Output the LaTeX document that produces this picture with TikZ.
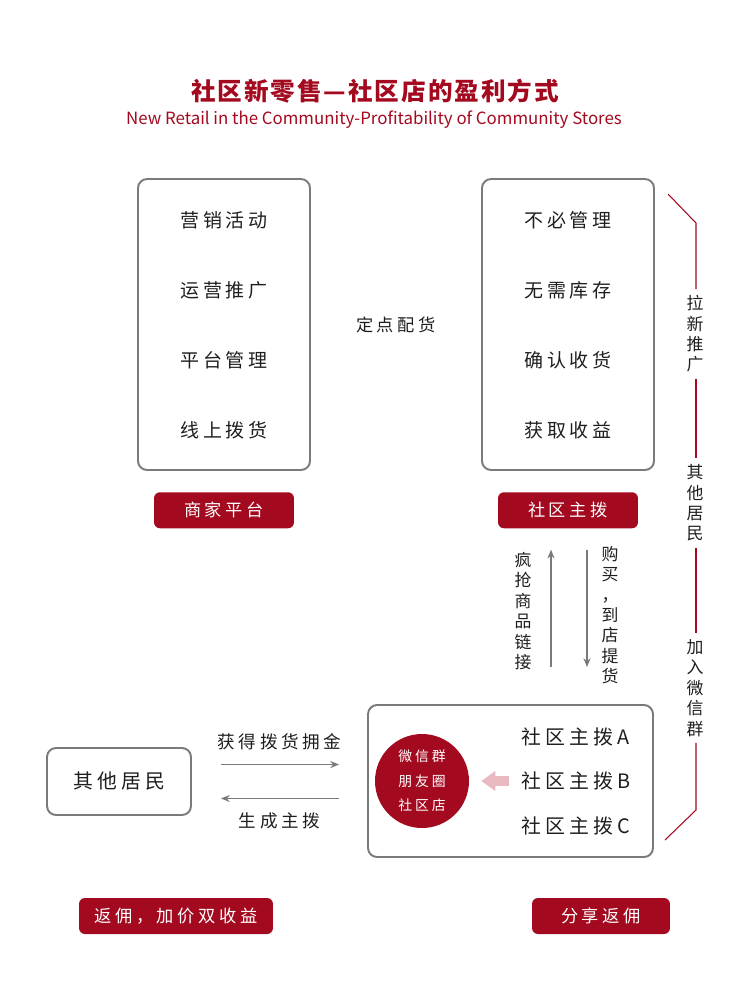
\documentclass[tikz,border=0pt]{standalone}
\usepackage{fontspec}
\setmainfont{Noto Sans CJK SC}
\newfontfamily\cjk[LetterSpace=21]{Noto Sans CJK SC}
\newfontfamily\cjktitle[LetterSpace=8]{Noto Sans CJK SC}
\usetikzlibrary{positioning,arrows.meta}
\definecolor{brandred}{HTML}{A3091F}
\definecolor{linegray}{HTML}{7A7A7A}
\definecolor{arrowpink}{HTML}{E8B9C1}
\definecolor{ink}{HTML}{1E1E1E}

\begin{document}
\begin{tikzpicture}[x=0.02cm,y=-0.02cm,
    panel/.style={draw=linegray,line width=1.1pt,rounded corners=0.18cm},
    item/.style={text=ink,font=\cjk\fontsize{10.8}{13}\selectfont},
    tag/.style={fill=brandred,text=white,rounded corners=0.12cm,minimum height=0.72cm,
      font=\cjk\fontsize{9.8}{12}\selectfont},
    vtext/.style={align=center,text=ink,inner sep=0pt,font=\fontsize{9.6}{11.6}\selectfont},
    flow/.style={draw=linegray,line width=0.85pt,-{Stealth[length=5pt,width=4pt]}},
    brace/.style={draw=brandred,line width=0.6pt}]
  \useasboundingbox (0,0) rectangle (750,994);

  \node[text=brandred,font=\cjktitle\bfseries\fontsize{14}{16}\selectfont] (title) at (375,91) {社区新零售—社区店的盈利方式};
  \node[text=brandred,font=\fontsize{9.6}{11}\selectfont] (subtitle) at (374,120) {New Retail in the Community-Profitability of Community Stores};

  \node[panel,minimum width=3.44cm,minimum height=5.82cm] (shop) at (224,324.5) {};
  \node[item] (s1) at (224,220) {营销活动};
  \node[item] (s2) at (224,290) {运营推广};
  \node[item] (s3) at (224,360) {平台管理};
  \node[item] (s4) at (224,430) {线上拨货};
  \node[tag,minimum width=2.8cm,below=0.42cm of shop] (shoptag) {商家平台};

  \node[item,font=\cjk\fontsize{9.8}{12}\selectfont] (deliver) at (396,325) {定点配货};

  \node[panel,minimum width=3.44cm,minimum height=5.82cm] (host) at (568,324.5) {};
  \node[item] (h1) at (568,220) {不必管理};
  \node[item] (h2) at (568,290) {无需库存};
  \node[item] (h3) at (568,360) {确认收货};
  \node[item] (h4) at (568,430) {获取收益};
  \node[tag,minimum width=2.8cm,below=0.42cm of host] (hosttag) {社区主拨};

  \node[panel,minimum width=5.7cm,minimum height=3.04cm] (group) at (510.5,781) {};
  \node[circle,fill=brandred,minimum size=1.88cm,text=white,align=center,
    font=\cjk\fontsize{7.9}{13.9}\selectfont] (chat) at (422,781) {微信群\\朋友圈\\社区店};
  \node[item,anchor=west,inner sep=0pt,font=\cjk\fontsize{11.3}{13}\selectfont] (hA) at (521,737) {社区主拨A};
  \node[item,anchor=west,inner sep=0pt,font=\cjk\fontsize{11.3}{13}\selectfont] (hB) at (521,781) {社区主拨B};
  \node[item,anchor=west,inner sep=0pt,font=\cjk\fontsize{11.3}{13}\selectfont] (hC) at (521,826) {社区主拨C};
  \draw[arrowpink,line width=0.2cm,-{Triangle[length=0.28cm,width=0.38cm]},
    shorten <=0.24cm,shorten >=0.24cm] (hB.west) -- (chat.east);

  \node[panel,minimum width=2.88cm,minimum height=1.34cm,item,font=\cjk\fontsize{11.3}{13}\selectfont] (other) at (119,781.5) {其他居民};

  \coordinate (o1) at ([yshift=0.34cm]other.east);
  \coordinate (o2) at ([yshift=-0.34cm]other.east);
  \draw[flow,shorten <=0.58cm,shorten >=0.56cm] (o1) -- (o1 -| group.west)
    node[midway,above=0.16cm,item,font=\cjk\fontsize{10}{12}\selectfont] (gain) {获得拨货拥金};
  \draw[flow,shorten <=0.56cm,shorten >=0.58cm] (o2 -| group.west) -- (o2)
    node[midway,below=0.16cm,item,font=\cjk\fontsize{10}{12}\selectfont] (make) {生成主拨};

  \coordinate (up) at ([xshift=-0.34cm]hosttag.south);
  \coordinate (dn) at ([xshift=0.38cm]hosttag.south);
  \draw[flow,shorten <=0.74cm,shorten >=0.42cm] (up |- group.north) -- (up);
  \draw[flow,shorten <=0.42cm,shorten >=0.74cm] (dn) -- (dn |- group.north);
  \node[vtext] (grab) at (523,611) {疯\\抢\\商\\品\\链\\接};
  \node[vtext] (buy) at (610,615) {购\\买\\，\\到\\店\\提\\货};

  \node[vtext] (pull) at (695,334) {拉\\新\\推\\广};
  \node[vtext] (others) at (695,503) {其\\他\\居\\民};
  \node[vtext] (join) at (695,688) {加\\入\\微\\信\\群};
  \coordinate (b0) at (668,194);
  \coordinate (b1) at (696,223);
  \coordinate (b2) at (696,810);
  \coordinate (b3) at (665,840);
  \draw[brace,shorten >=0.12cm] (b0) -- (b1) -- (b1 |- pull.north);
  \draw[brace,shorten <=0.12cm,shorten >=0.12cm] (pull.south -| b1) -- (others.north -| b1);
  \draw[brace,shorten <=0.12cm,shorten >=0.12cm] (others.south -| b1) -- (join.north -| b1);
  \draw[brace,shorten <=0.12cm] (join.south -| b2) -- (b2) -- (b3);

  \node[tag,minimum width=3.88cm] (rebate) at (176,916) {返佣，加价双收益};
  \node[tag,minimum width=2.76cm] (share) at (601,916) {分享返佣};
\end{tikzpicture}
\end{document}
